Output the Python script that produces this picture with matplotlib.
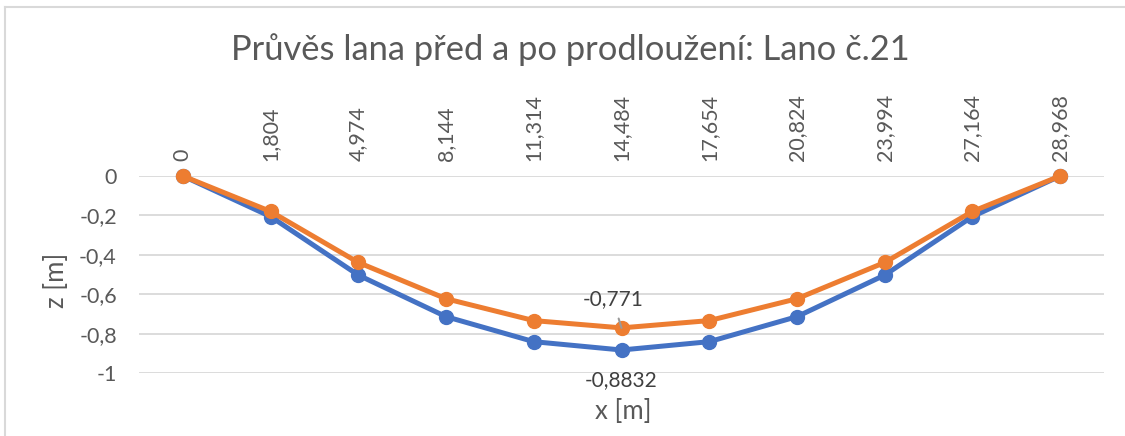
import matplotlib
matplotlib.use("Agg")
import matplotlib.pyplot as plt
from matplotlib.lines import Line2D

categories = ["0", "1,804", "4,974", "8,144", "11,314", "14,484", "17,654",
              "20,824", "23,994", "27,164", "28,968"]
before = [0, -0.206, -0.503, -0.714, -0.841, -0.8832, -0.841, -0.714, -0.503, -0.206, 0]
after = [0, -0.180, -0.439, -0.623, -0.734, -0.771, -0.734, -0.623, -0.439, -0.180, 0]
yticks = [0, -0.2, -0.4, -0.6, -0.8, -1]
yticklabels = ["0", "-0,2", "-0,4", "-0,6", "-0,8", "-1"]

plt.rcParams['font.family'] = ['Lato', 'DejaVu Sans']
W, H = 1125, 436
fig = plt.figure(figsize=(W / 100, H / 100), dpi=100)
ax = fig.add_axes([139 / W, 1 - 373 / H, (1104 - 139) / W, (373 - 176) / H])

x = list(range(len(categories)))
blue = "#4472C4"
orange = "#ED7D31"
ax.plot(x, before, color=blue, lw=3.6, marker="o", ms=10, clip_on=False, zorder=3,
        solid_joinstyle="round")
ax.plot(x, after, color=orange, lw=3.6, marker="o", ms=10, clip_on=False, zorder=4,
        solid_joinstyle="round")

ax.set_xlim(-0.5, len(categories) - 0.5)
ax.set_ylim(-1, 0)
ax.set_yticks(yticks)
ax.set_yticklabels(yticklabels)
ax.set_xticks(x)
ax.set_xticklabels(categories, rotation=90)
ax.xaxis.tick_top()
for s in ax.spines.values():
    s.set_visible(False)
ax.grid(axis="y", color="#d9d9d9", lw=1.3)
ax.set_axisbelow(True)
ax.tick_params(axis="both", length=0, labelsize=15.5, labelcolor="#595959")
ax.tick_params(axis="x", pad=11)
ax.tick_params(axis="y", pad=16)

fig.text(56 / W, 1 - 280 / H, "z [m]", fontsize=18.5, color="#595959",
         ha="center", va="center", rotation=90)
fig.text(623 / W, 1 - 411 / H, "x [m]", fontsize=18.5, color="#595959",
         ha="center", va="center")
fig.text(570 / W, 1 - 50 / H, "Průvěs lana před a po prodloužení: Lano č.21",
         fontsize=24.8, color="#595959", ha="center", va="center")

# data labels
i = 5
ax.annotate("-0,771", xy=(x[i], after[i]), xytext=(x[i] - 0.1, -0.625),
            ha="center", va="center", fontsize=15, color="#404040", zorder=6,
            arrowprops=dict(arrowstyle="-", color="#9a9a9a", lw=1.5,
                            shrinkA=5, shrinkB=0))
ax.annotate("-0,8832", xy=(x[i], before[i]), xytext=(0, -22),
            textcoords="offset points", ha="center", va="center",
            fontsize=15, color="#404040")

# chart border
fig.add_artist(Line2D([5 / W, 5 / W], [0, 1 - 7 / H], transform=fig.transFigure,
                      color="#d9d9d9", lw=1.5))
fig.add_artist(Line2D([5 / W, 1], [1 - 7 / H, 1 - 7 / H], transform=fig.transFigure,
                      color="#d9d9d9", lw=1.5))

fig.savefig("out.png", dpi=100)
